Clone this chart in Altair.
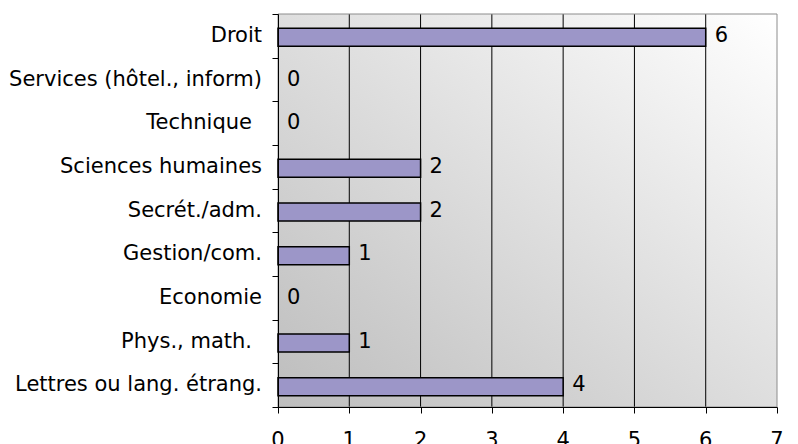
import altair as alt
import pandas as pd

categories = [
    "Droit",
    "Services (hôtel., inform)",
    "Technique ",
    "Sciences humaines",
    "Secrét./adm.",
    "Gestion/com.",
    "Economie",
    "Phys., math. ",
    "Lettres ou lang. étrang.",
]
values = [6, 0, 0, 2, 2, 1, 0, 1, 4]
x_ticks = [0, 1, 2, 3, 4, 5, 6, 7]
grid_values = [1, 2, 3, 4, 5, 6]

df = pd.DataFrame({"cat": categories, "val": values})
grid_df = pd.DataFrame({"g": grid_values})
tick_df = pd.DataFrame({"t": x_ticks})
one = pd.DataFrame({"d": [0]})

W, H = 499, 393
FONT = "DejaVu Sans"
FS = 21

xscale = alt.Scale(domain=[0, 7], nice=False)
yscale = alt.Scale(domain=categories, paddingInner=0, paddingOuter=0)

yaxis = alt.Axis(
    title=None, tickBand="extent", domainColor="black", tickColor="black",
    tickSize=6, labels=False, grid=False, zindex=1,
)
xaxis = alt.Axis(
    title=None, values=x_ticks, grid=False, domainColor="black",
    tickColor="black", tickSize=6, labels=False, zindex=1,
)

bg = alt.Chart(one).mark_rect(
    color=alt.Gradient(
        gradient="linear", x1=0, y1=1, x2=1, y2=0,
        stops=[
            alt.GradientStop(color="#bdbdbd", offset=0),
            alt.GradientStop(color="#ffffff", offset=1),
        ],
    )
).encode(x=alt.value(0), x2=alt.value(W), y=alt.value(0), y2=alt.value(H))

border = alt.Chart(one).mark_rect(
    fillOpacity=0, stroke="#8c8c8c", strokeWidth=1
).encode(x=alt.value(0), x2=alt.value(W), y=alt.value(0), y2=alt.value(H))

grid = alt.Chart(grid_df).mark_rule(color="black", strokeWidth=1).encode(
    x=alt.X("g:Q", scale=xscale, axis=xaxis)
)

bars = alt.Chart(df).transform_filter("datum.val > 0").mark_bar(
    color="#9c96c8", stroke="black", strokeWidth=1.5, size=18, yOffset=1.5
).encode(
    x=alt.X("val:Q", scale=xscale, axis=xaxis),
    y=alt.Y("cat:N", sort=categories, scale=yscale, axis=yaxis),
)

cat_labels = alt.Chart(df).transform_calculate(
    shift="test(/ $/, datum.cat) ? -10 : 0"
).mark_text(
    align="right", baseline="middle", font=FONT, fontSize=FS, color="black"
).encode(
    x=alt.value(-16),
    xOffset=alt.XOffset("shift:Q", scale=None),
    y=alt.Y("cat:N", sort=categories, scale=yscale),
    text="cat:N",
)

tick_labels = alt.Chart(tick_df).mark_text(
    align="center", baseline="top", font=FONT, fontSize=FS, color="black"
).encode(
    x=alt.X("t:Q", scale=xscale, axis=xaxis),
    y=alt.value(H + 23),
    text="t:Q",
)

labels = alt.Chart(df).mark_text(
    align="left", baseline="middle", dx=9, dy=0, font=FONT, fontSize=FS, color="black"
).encode(
    x=alt.X("val:Q", scale=xscale, axis=xaxis),
    y=alt.Y("cat:N", sort=categories, scale=yscale),
    text="val:Q",
)

chart = alt.layer(bg, grid, border, bars, labels, cat_labels, tick_labels).properties(
    width=W, height=H,
    autosize=alt.AutoSizeParams(type="none"),
    padding={"left": 270, "top": 6, "right": 13, "bottom": 37},
).configure_view(stroke=None)

chart.save("out.html", embed_options={"renderer": "svg", "actions": False})
